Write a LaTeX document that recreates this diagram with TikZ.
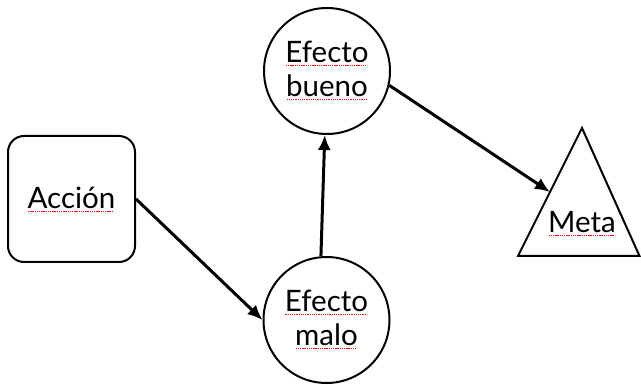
\documentclass[tikz,border=0pt]{standalone}
\usepackage{fontspec}
\setmainfont{Lato}
\usetikzlibrary{arrows.meta}
\newcommand\redsq[1]{\leavevmode\setbox0=\hbox{#1}\rlap{\raisebox{-3.5pt}{\color{red}\leaders\hbox to 2.2pt{\hss\vrule width 1.3pt height 1pt\hss}\hskip\wd0}}\box0}
\begin{document}
\begin{tikzpicture}[x=1pt,y=-1pt,
  lbl/.style={font=\fontsize{29.5}{34}\selectfont, align=center},
  boxnode/.style={lbl, draw, line width=2pt, rounded corners=16pt, minimum width=127pt, minimum height=126pt, inner sep=0pt},
  circnode/.style={lbl, draw, circle, line width=2pt, minimum size=126pt, inner sep=0pt},
  arr/.style={line width=3pt, -{Latex[length=15pt,width=13pt]}}]
\useasboundingbox (0,0) rectangle (641,385);
\node[boxnode] (acc) at (71.5,199) {\redsq{Acción}};
\node[circnode] (bueno) at (327,71) {\redsq{Efecto}\\\redsq{bueno}};
\node[circnode] (malo) at (326.5,320) {\redsq{Efecto}\\\redsq{malo}};
\draw[line width=2pt, line join=miter] (518,256) coordinate (mA) -- (639.5,256) coordinate (mB) -- (582,128) coordinate (mC) -- cycle;
\node[lbl, anchor=base] (meta) at (582,233) {\redsq{Meta}};
\coordinate (metaL) at (550,192);
\draw[arr] (acc.east) -- (malo.west);
\draw[arr] (malo.95) -- (bueno.268);
\draw[arr] (bueno.-13) -- (metaL);
\end{tikzpicture}
\end{document}
